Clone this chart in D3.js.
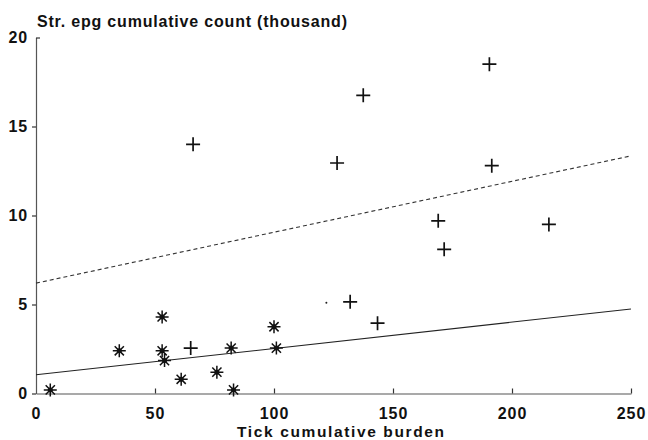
<!DOCTYPE html>
<html><head><meta charset="utf-8">
<script src="https://cdn.jsdelivr.net/npm/d3@7"></script>
<style>body{margin:0;background:#fff}svg{display:block}text{font-family:"Liberation Sans",Arial,sans-serif;font-weight:bold;fill:#111}</style>
</head><body>
<script>
// Data
const starX = [6, 35, 53, 53, 54, 61, 76, 82, 83, 100, 101];
const starY = [0.2, 2.4, 4.3, 2.4, 1.85, 0.8, 1.2, 2.55, 0.2, 3.75, 2.55];
const plusX = [66, 65, 126.5, 137.5, 190.5, 191.5, 169, 171.5, 215.5, 132, 143.5];
const plusY = [14.0, 2.55, 12.95, 16.75, 18.5, 12.8, 9.7, 8.1, 9.5, 5.15, 3.95];
const dotX = [122];
const dotY = [5.1];
const solidLine = {x: [0, 250], y: [1.05, 4.75]};
const dashLine = {x: [0, 250], y: [6.2, 13.35]};
const xTicks = [0, 50, 100, 150, 200, 250];
const yTicks = [0, 5, 10, 15, 20];
const yTitle = "Str. epg cumulative count (thousand)";
const xTitle = "Tick cumulative burden";

const W = 648, H = 440;
const svg = d3.select("body").append("svg").attr("width", W).attr("height", H);
svg.append("rect").attr("width", W).attr("height", H).attr("fill", "#fff");
const x = d3.scaleLinear().domain([0, 250]).range([36, 631]);
const y = d3.scaleLinear().domain([0, 20]).range([393.5, 37.5]);

// axes
const gx = svg.append("g").attr("transform", `translate(0,${y(0)})`)
  .call(d3.axisBottom(x).tickValues(xTicks).tickSize(-5).tickSizeOuter(0).tickPadding(14));
gx.selectAll("text").attr("font-size", 16).attr("letter-spacing", 1);
const gy = svg.append("g").attr("transform", `translate(${x(0)},0)`)
  .call(d3.axisLeft(y).tickValues(yTicks).tickSize(4).tickSizeOuter(0).tickPadding(4));
gy.selectAll("text").attr("font-size", 16).attr("letter-spacing", 0.8);
[gx, gy].forEach(g => {
  g.attr("font-family", null).attr("font-size", null);
  g.select(".domain").attr("stroke", "#555").attr("stroke-width", 1.2);
  g.selectAll(".tick line").attr("stroke", "#333").attr("stroke-width", 1.2);
  g.selectAll(".tick text").attr("fill", "#111");
});
gx.selectAll(".tick").filter(d => d === 0).select("line").remove();
gy.selectAll(".tick").filter(d => d === 20).select("line").attr("x2", 4);

// titles
svg.append("text").attr("x", 37).attr("y", 27).attr("font-size", 16)
  .attr("textLength", 310).attr("lengthAdjust", "spacing").text(yTitle);
svg.append("text").attr("x", 237).attr("y", 437).attr("font-size", 15.5)
  .attr("textLength", 207).attr("lengthAdjust", "spacing").text(xTitle);

// regression lines
const line = d3.line().x(d => x(d[0])).y(d => y(d[1]));
svg.append("path").attr("d", line(d3.zip(solidLine.x, solidLine.y)))
  .attr("fill", "none").attr("stroke", "#222").attr("stroke-width", 1.1);
svg.append("path").attr("d", line(d3.zip(dashLine.x, dashLine.y)))
  .attr("fill", "none").attr("stroke", "#333").attr("stroke-width", 1.1)
  .attr("stroke-dasharray", "4,3");

// asterisks
const stars = svg.append("g");
d3.zip(starX, starY).forEach(([a, b]) => {
  const cx = x(a), cy = y(b), r = 6.5, d = 4.6;
  stars.append("path")
    .attr("d", `M${cx - r},${cy}H${cx + r}M${cx},${cy - r}V${cy + r}M${cx - d},${cy - d}L${cx + d},${cy + d}M${cx - d},${cy + d}L${cx + d},${cy - d}`)
    .attr("stroke", "#111").attr("stroke-width", 1.5).attr("fill", "none");
  stars.append("circle").attr("cx", cx).attr("cy", cy).attr("r", 2.5).attr("fill", "#111");
});

// plus signs
const plus = svg.append("g");
d3.zip(plusX, plusY).forEach(([a, b]) => {
  const cx = x(a), cy = y(b), r = 7;
  plus.append("path").attr("d", `M${cx - r},${cy}H${cx + r}M${cx},${cy - r}V${cy + r}`)
    .attr("stroke", "#111").attr("stroke-width", 1.7).attr("fill", "none");
});

// small dot
d3.zip(dotX, dotY).forEach(([a, b]) => {
  svg.append("circle").attr("cx", x(a)).attr("cy", y(b)).attr("r", 1).attr("fill", "#222");
});
</script>
</body></html>
